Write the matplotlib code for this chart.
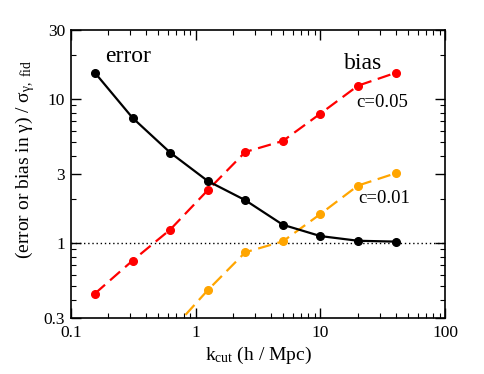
import numpy as np
import matplotlib
matplotlib.use("Agg")
import matplotlib.pyplot as plt
from matplotlib.ticker import FixedLocator, FixedFormatter, LogLocator, NullFormatter

plt.rcParams['font.family'] = ['Liberation Serif', 'DejaVu Serif']
plt.rcParams['mathtext.fontset'] = 'custom'
plt.rcParams['mathtext.rm'] = 'Liberation Serif'
plt.rcParams['mathtext.it'] = 'Liberation Serif:italic'

# data
k_cut = [0.15625, 0.3125, 0.625, 1.25, 2.5, 5, 10, 20, 40]
error = [15.1, 7.35, 4.22, 2.68, 1.97, 1.33, 1.11, 1.03, 1.016]
bias_c005 = [0.443, 0.75, 1.23, 2.31, 4.26, 5.08, 7.87, 12.3, 15.1]
bias_c001 = [0.06, 0.12, 0.24, 0.467, 0.857, 1.02, 1.58, 2.49, 3.03]

yticks = [0.3, 1, 3, 10, 30]
ytick_labels = ['0.3', '1', '3', '10', '30']
xticks = [0.1, 1, 10, 100]
xtick_labels = ['0.1', '1', '10', '100']

fig = plt.figure(figsize=(4.85, 3.74), dpi=100)
ax = fig.add_axes([0.146, 0.150, 0.772, 0.770])

ax.axhline(1, color='black', ls=(0, (1, 2)), lw=1.0)
ax.plot(k_cut, bias_c005, color='#ff0000', ls=(0, (6, 3)), lw=1.6,
        marker='o', ms=5.5)
ax.plot(k_cut, bias_c001, color='#ffa500', ls=(0, (6, 3)), lw=1.6,
        marker='o', ms=5.5)
ax.plot(k_cut, error, color='black', lw=1.6, marker='o', ms=5.5)

ax.set_xscale('log')
ax.set_yscale('log')
ax.set_xlim(0.1, 100)
ax.set_ylim(0.3, 30)

ax.xaxis.set_major_locator(FixedLocator(xticks))
ax.xaxis.set_major_formatter(FixedFormatter(xtick_labels))
ax.xaxis.set_minor_locator(LogLocator(base=10, subs=np.arange(2, 10)))
ax.xaxis.set_minor_formatter(NullFormatter())
ax.yaxis.set_major_locator(FixedLocator(yticks))
ax.yaxis.set_major_formatter(FixedFormatter(ytick_labels))
ax.yaxis.set_minor_locator(LogLocator(base=10, subs=np.arange(2, 10)))
ax.yaxis.set_minor_formatter(NullFormatter())

ax.tick_params(axis='both', which='both', direction='in', top=True, right=True,
               labelsize=12.5)
ax.tick_params(which='major', length=7, width=1)
ax.tick_params(which='minor', length=3.5, width=0.8)
ax.tick_params(axis='x', which='major', pad=5)
ax.tick_params(axis='y', which='major', pad=4)
for s in ax.spines.values():
    s.set_linewidth(1.2)

ax.set_xlabel(r'k$_{\rm cut}$ (h / Mpc)', fontsize=14, labelpad=3)
ax.set_ylabel(r'(error or bias in $\mathrm{\gamma}$) / $\mathrm{\sigma_{\gamma,\ fid}}$',
              fontsize=14)
ax.yaxis.set_label_coords(-0.09, 0.55)

ax.text(0.19, 19.5, 'error', fontsize=17, ha='left', va='center')
ax.text(15.5, 17.5, 'bias', fontsize=17, ha='left', va='center')
ax.text(19.5, 9.4, 'c=0.05', fontsize=13.5, ha='left', va='center')
ax.text(20, 2.02, 'c=0.01', fontsize=13.5, ha='left', va='center')

fig.savefig('out.png', dpi=100)
